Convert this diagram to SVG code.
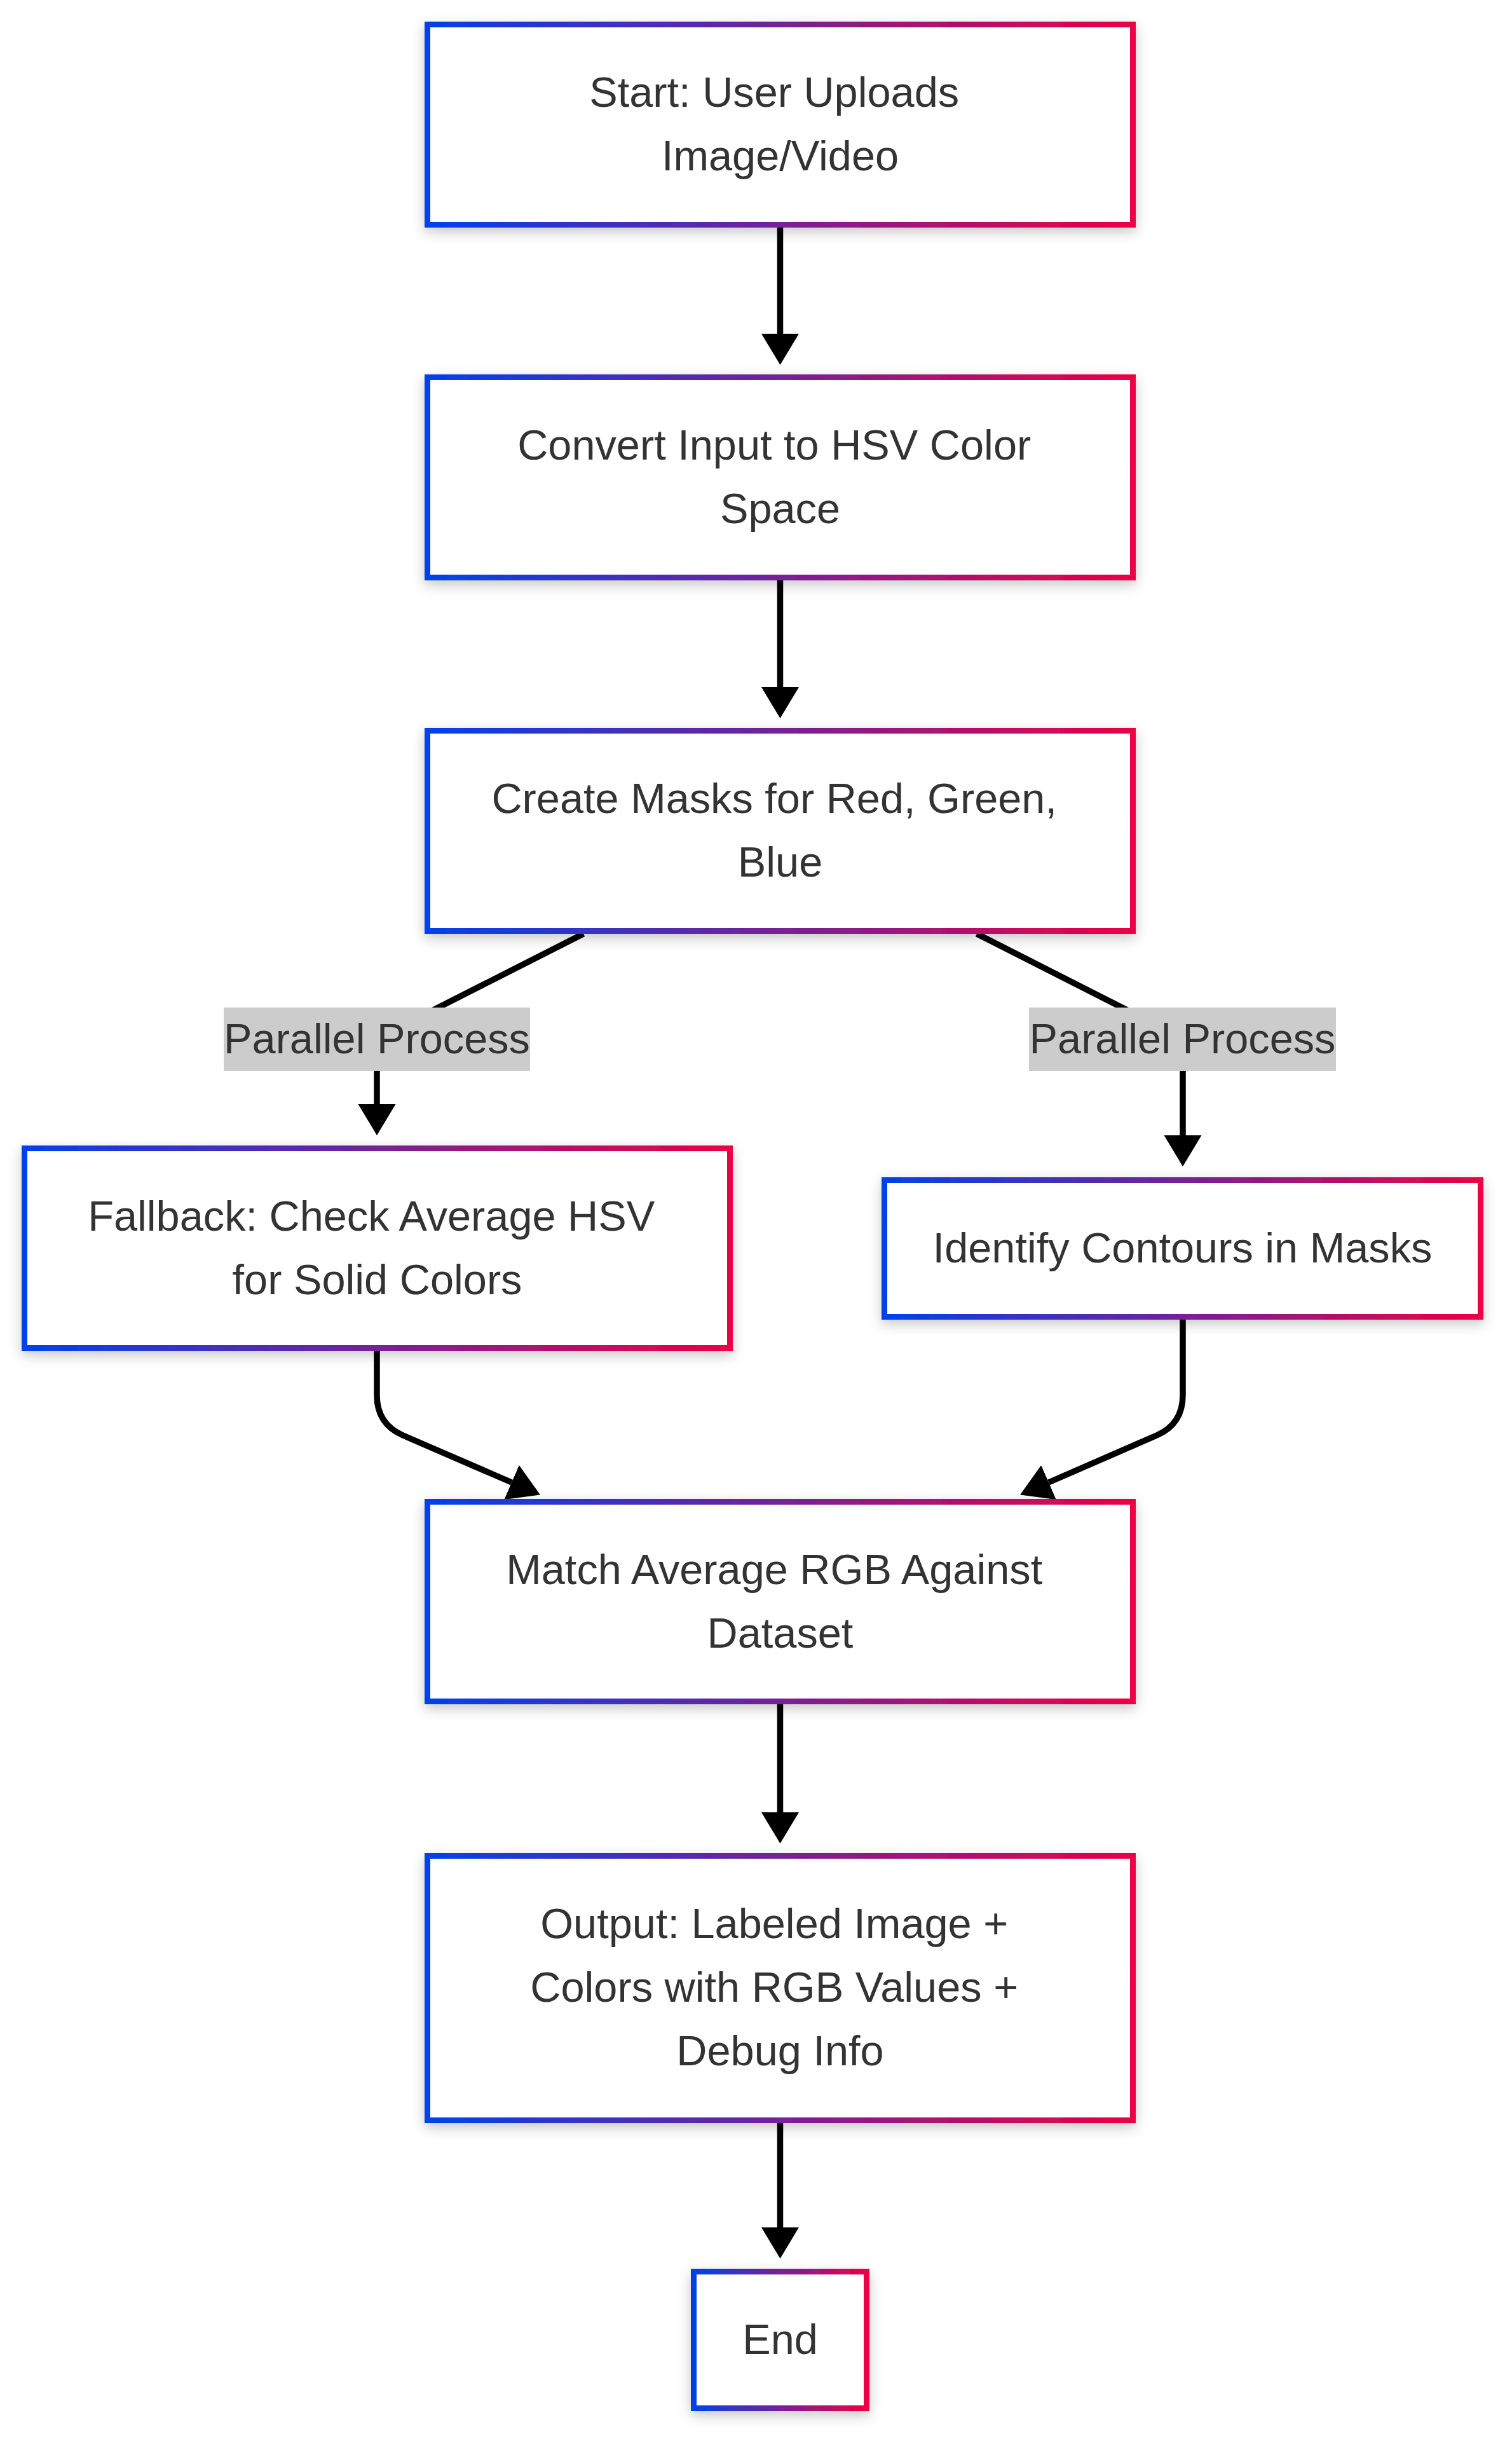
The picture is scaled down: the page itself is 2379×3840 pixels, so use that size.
<svg xmlns="http://www.w3.org/2000/svg" width="2379" height="3840" viewBox="0 0 2379 3840">
<style>
.node rect{fill:#ffffff;stroke:url(#grad);stroke-width:9;filter:url(#shadow)}
.node text,.lbl text{font-family:"Liberation Sans",Arial,sans-serif;font-size:66.7px;fill:#333333;text-anchor:middle}
.edge{fill:none;stroke:#000000;stroke-width:9.5;marker-end:url(#arrow)}
.lbl rect{fill:#cccccc}
</style>
<defs>
<linearGradient id="grad" x1="0" y1="0" x2="1" y2="0">
<stop offset="0" stop-color="#0042ea"/>
<stop offset="1" stop-color="#ec0045"/>
</linearGradient>
<filter id="shadow" x="-10%" y="-20%" width="120%" height="150%">
<feDropShadow dx="0" dy="7" stdDeviation="10" flood-color="#000000" flood-opacity="0.22"/>
</filter>
<marker id="arrow" markerUnits="userSpaceOnUse" markerWidth="50" markerHeight="60" viewBox="0 0 50 60" refX="0" refY="30" orient="auto">
<path d="M0,0.5 L49,30 L0,59.5 z" fill="#000000"/>
</marker>
</defs>
<g id="connectors">
<path class="edge" d="M1227.5,358 L1227.5,525"/>
<path class="edge" d="M1227.5,913 L1227.5,1081"/>
<path class="edge" d="M918,1469 L660,1600 Q593,1635 593,1680 L593,1737"/>
<path class="edge" d="M1537,1469 L1795,1600 Q1861,1635 1861,1680 L1861,1786"/>
<path class="edge" d="M593,2125 L593,2195 Q593,2240 634,2258 L805,2332"/>
<path class="edge" d="M1861,2076 L1861,2195 Q1861,2240 1820,2258 L1650,2332"/>
<path class="edge" d="M1227.5,2681 L1227.5,2851"/>
<path class="edge" d="M1227.5,3340 L1227.5,3504"/>
</g>
<g id="label-left" class="lbl">
<rect x="352" y="1585" width="482" height="100"/>
<text x="593" y="1657">Parallel Process</text>
</g>
<g id="label-right" class="lbl">
<rect x="1619" y="1585" width="483" height="100"/>
<text x="1860.5" y="1657">Parallel Process</text>
</g>
<g id="node-start" class="node">
<rect x="672.5" y="38.5" width="1110" height="315"/>
<text x="1218.2" y="168">Start: User Uploads</text>
<text x="1227.5" y="268">Image/Video</text>
</g>
<g id="node-convert" class="node">
<rect x="672.5" y="593.5" width="1110" height="315"/>
<text x="1218.2" y="723">Convert Input to HSV Color</text>
<text x="1227.5" y="823">Space</text>
</g>
<g id="node-masks" class="node">
<rect x="672.5" y="1149.5" width="1110" height="315"/>
<text x="1218.2" y="1279">Create Masks for Red, Green,</text>
<text x="1227.5" y="1379">Blue</text>
</g>
<g id="node-fallback" class="node">
<rect x="38.5" y="1806.5" width="1110" height="314"/>
<text x="584.2" y="1936">Fallback: Check Average HSV</text>
<text x="593.5" y="2036">for Solid Colors</text>
</g>
<g id="node-contours" class="node">
<rect x="1391.5" y="1856.5" width="938" height="215"/>
<text x="1860.5" y="1986">Identify Contours in Masks</text>
</g>
<g id="node-match" class="node">
<rect x="672.5" y="2362.5" width="1110" height="314"/>
<text x="1218.2" y="2492">Match Average RGB Against</text>
<text x="1227.5" y="2592">Dataset</text>
</g>
<g id="node-output" class="node">
<rect x="672.5" y="2919.5" width="1110" height="416"/>
<text x="1218.2" y="3049">Output: Labeled Image +</text>
<text x="1218.2" y="3149">Colors with RGB Values +</text>
<text x="1227.5" y="3249">Debug Info</text>
</g>
<g id="node-end" class="node">
<rect x="1091.5" y="3573.5" width="272" height="215"/>
<text x="1227.5" y="3703">End</text>
</g>
</svg>
